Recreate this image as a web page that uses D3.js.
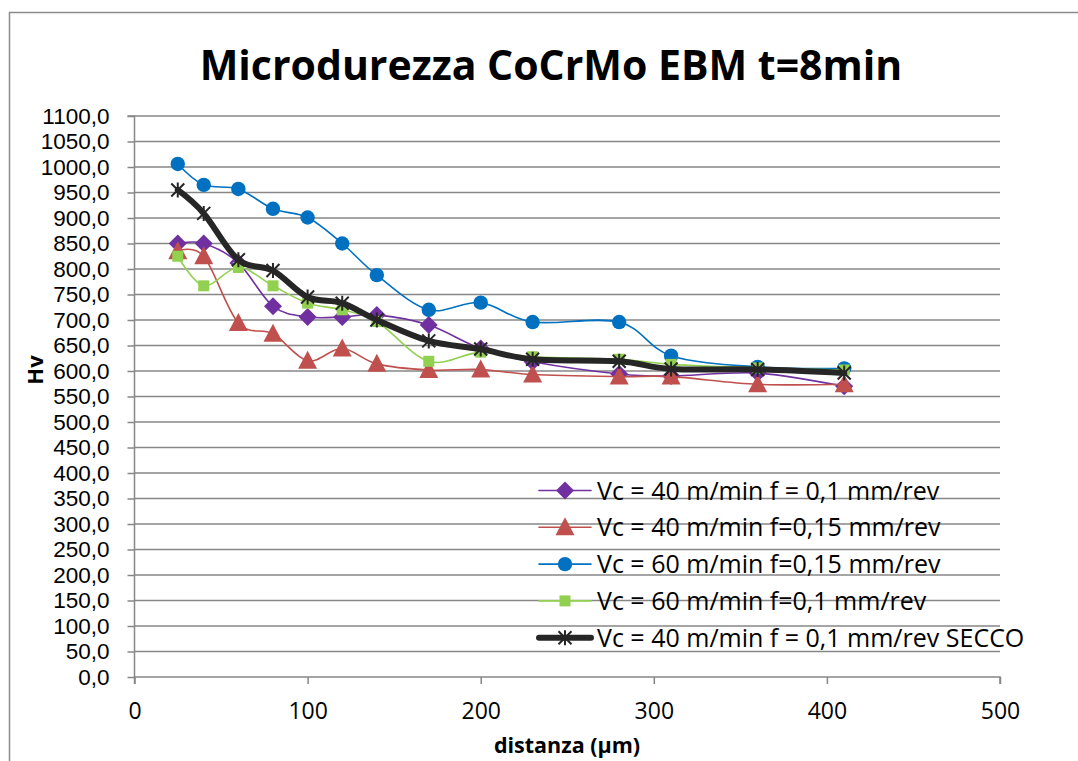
<!DOCTYPE html>
<html><head><meta charset="utf-8">
<script src="https://cdn.jsdelivr.net/npm/d3@7"></script>
<style>
body{margin:0;background:#fff;}
svg{display:block;font-family:"Open Sans",sans-serif;}
</style></head>
<body>
<svg id="c" width="1078" height="761"></svg>
<script>
const title = "Microdurezza CoCrMo EBM t=8min";
const xTitle = "distanza (µm)";
const yTitle = "Hv";
const distances = [25,40,60,80,100,120,140,170,200,230,280,310,360,410];
const s1 = [850,850,812,727,706,706,710,690,644,618,594,590,596,570];
const s2 = [835,825,694,673,620,644,614,602,603,593,589,589,574,574];
const s3 = [1006,965,957,918,901,850,788,720,734,696,696,630,608,605];
const s4 = [825,767,803,767,733,720,697,619,637,628,623,613,606,602];
const s5 = [955,909,818,797,745,733,700,659,643,623,619,604,603,596];
const seriesNames = [
  "Vc = 40 m/min f = 0,1 mm/rev",
  "Vc = 40 m/min f=0,15 mm/rev",
  "Vc = 60 m/min f=0,15 mm/rev",
  "Vc = 60 m/min f=0,1 mm/rev",
  "Vc = 40 m/min f = 0,1 mm/rev SECCO"
];
const xTicks = [0,100,200,300,400,500];
const yTicks = d3.range(0,1101,50);

const colors = ["#7030A0","#C0504D","#0070C0","#92D050","#262626"];
const markers = ["diamond","triangle","circle","square","star"];
const widths = [1.6,1.6,1.6,1.6,6];
const allSeries = [s1,s2,s3,s4,s5];

const svg = d3.select("#c");
const L=134.5, R=1000, T=116, B=677;
const x = d3.scaleLinear().domain([0,500]).range([L,R]);
const y = d3.scaleLinear().domain([0,1100]).range([B,T]);

// chart border
svg.append("path").attr("d",`M9.5,800 V12.5 H1100`).attr("fill","none").attr("stroke","#8c8c8c").attr("stroke-width",1.5);

// gridlines
svg.append("g").selectAll("line").data(yTicks.filter(d=>d>0)).join("line")
  .attr("x1",L).attr("x2",R).attr("y1",d=>y(d)).attr("y2",d=>y(d))
  .attr("stroke","#878787").attr("stroke-width",1.5);

// y axis
const yAxis = d3.axisLeft(y).tickValues(yTicks).tickSize(7).tickPadding(18)
  .tickFormat(d=>d3.format(".1f")(d).replace(".",","));
const gy = svg.append("g").attr("transform",`translate(${L},0)`).call(yAxis);
gy.select(".domain").attr("stroke","#878787").attr("stroke-width",1.5).attr("d",`M-7,${T}H0V${B+7}`);
gy.selectAll(".tick line").attr("stroke","#878787").attr("stroke-width",1.5);
gy.selectAll("text").attr("font-size",22.5).attr("font-family","Liberation Sans").attr("fill","#000");

// x axis
const xAxis = d3.axisBottom(x).tickValues(xTicks).tickSize(7).tickPadding(19);
const gx = svg.append("g").attr("transform",`translate(0,${B})`).call(xAxis);
gx.select(".domain").attr("stroke","#878787").attr("stroke-width",1.5).attr("d",`M${L},0H${R}V7`);
gx.selectAll(".tick line").attr("stroke","#878787").attr("stroke-width",1.5);
gx.selectAll("text").attr("font-size",23).attr("font-family","Open Sans").attr("fill","#000");

// titles
svg.append("text").attr("x",551).attr("y",80).attr("text-anchor","middle")
  .attr("font-size",41).attr("font-weight","bold").text(title);
svg.append("text").attr("x",567).attr("y",753).attr("text-anchor","middle")
  .attr("font-size",21.5).attr("font-weight","bold").text(xTitle);
svg.append("text").attr("transform","translate(43,370) rotate(-90)").attr("text-anchor","middle")
  .attr("font-size",22).attr("font-weight","bold").text(yTitle);

function drawMarker(g, type, color, cx, cy){
  if(type==="diamond"){
    g.append("path").attr("d",`M${cx},${cy-9}L${cx+9},${cy}L${cx},${cy+9}L${cx-9},${cy}Z`).attr("fill",color);
  } else if(type==="triangle"){
    g.append("path").attr("d",`M${cx},${cy-10}L${cx+9.5},${cy+8}L${cx-9.5},${cy+8}Z`).attr("fill",color);
  } else if(type==="circle"){
    g.append("circle").attr("cx",cx).attr("cy",cy).attr("r",7.2).attr("fill",color);
  } else if(type==="square"){
    g.append("rect").attr("x",cx-5.5).attr("y",cy-5.5).attr("width",11).attr("height",11).attr("fill",color);
  } else if(type==="star"){
    const r=6.5;
    g.append("path").attr("d",`M${cx-r},${cy-r}L${cx+r},${cy+r}M${cx+r},${cy-r}L${cx-r},${cy+r}M${cx},${cy-r-1}V${cy+r+1}`)
      .attr("stroke",color).attr("stroke-width",2).attr("fill","none");
  }
}

const line = d3.line().x(d=>x(d[0])).y(d=>y(d[1])).curve(d3.curveCardinal.tension(0));
allSeries.forEach((vals,i)=>{
  const g = svg.append("g");
  const pts = distances.map((d,j)=>[d,vals[j]]);
  g.append("path").attr("d",line(pts)).attr("fill","none").attr("stroke",colors[i])
    .attr("stroke-width",widths[i]).attr("stroke-linejoin","round").attr("stroke-linecap","round");
  pts.forEach(p=>drawMarker(g,markers[i],colors[i],x(p[0]),y(p[1])));
});

// legend
const legY0 = 490.5, legDy = 36.8;
seriesNames.forEach((name,i)=>{
  const g = svg.append("g");
  const cy = legY0 + i*legDy;
  g.append("line").attr("x1",539).attr("x2",591).attr("y1",cy).attr("y2",cy)
    .attr("stroke",colors[i]).attr("stroke-width",widths[i]).attr("stroke-linecap","round");
  drawMarker(g,markers[i],colors[i],565,cy);
  g.append("text").attr("x",597).attr("y",cy+9).attr("font-size",25).text(name);
});
</script>
</body></html>
